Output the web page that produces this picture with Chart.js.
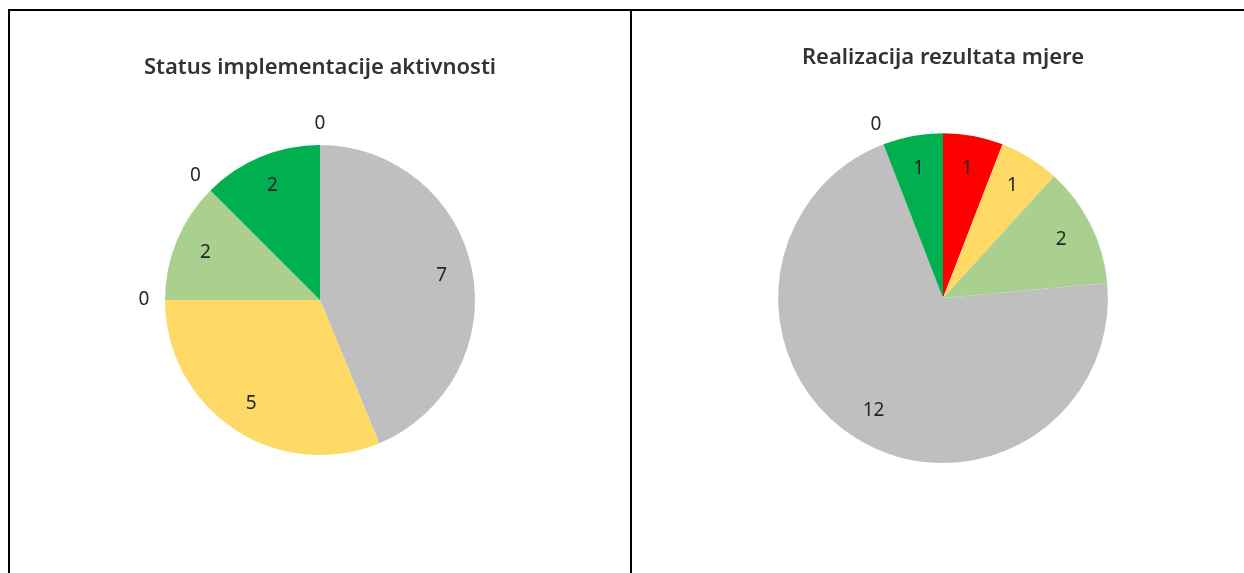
<!DOCTYPE html>
<html lang="hr">

<head>
    <meta charset="UTF-8">
    <meta name="viewport" content="width=device-width, initial-scale=1.0">
    <title>Status i realizacija</title>
    <script src="https://cdn.jsdelivr.net/npm/chart.js@4/dist/chart.umd.min.js"></script>
    <style>
        body {
            margin: 0;
            background: #fff;
            overflow: hidden;
        }

        #tabela {
            position: absolute;
            left: 8px;
            top: 9px;
            width: 1300px;
            height: 600px;
            border-left: 2px solid #000;
            border-top: 2px solid #000;
        }

        .celija {
            position: absolute;
            top: 0;
            height: 562px;
        }

        #lijevo {
            left: 0;
            width: 620px;
            border-right: 2px solid #000;
        }

        #desno {
            left: 622px;
            width: 622px;
        }
    </style>
</head>

<body>
    <div id="tabela">
        <div class="celija" id="lijevo">
            <canvas id="myChart" width="620" height="562"></canvas>
        </div>
        <div class="celija" id="desno">
            <canvas id="myChart1" width="622" height="562"></canvas>
        </div>
    </div>

    <script>
        // podaci - status implementacije aktivnosti
        const statusKategorije = ['Nije započeto', 'U toku', 'Kasni', 'Djelimično realizovano', 'Odgođeno', 'Realizovano', 'Odustalo'];
        const statusVrijednosti = [7, 5, 0, 2, 0, 2, 0];
        const statusBoje = ['#BFBFBF', '#FFD966', '#FF0000', '#A9D08E', '#8EA9DB', '#00B050', '#F4B084'];

        // podaci - realizacija rezultata mjere
        const rezultatKategorije = ['Nije realizovano', 'Djelimično', 'Većim dijelom', 'Nema podataka', 'Odgođeno', 'Realizovano'];
        const rezultatVrijednosti = [1, 1, 2, 12, 0, 1];
        const rezultatBoje = ['#FF0000', '#FFD966', '#A9D08E', '#BFBFBF', '#8EA9DB', '#00B050'];

        const font = "'Noto Sans', sans-serif";

        // oznake vrijednosti (kao u Excelu): unutra, a nule izvan kruga
        const oznake = {
            id: 'oznake',
            afterDatasetsDraw(chart) {
                const c = chart.ctx;
                const meta = chart.getDatasetMeta(0);
                const vrijednosti = chart.data.datasets[0].data;
                c.save();
                c.font = '19px ' + font;
                c.fillStyle = '#262626';
                c.textAlign = 'center';
                c.textBaseline = 'middle';
                meta.data.forEach((luk, i) => {
                    const p = luk.getProps(['x', 'y', 'startAngle', 'endAngle', 'outerRadius'], true);
                    const ugao = (p.startAngle + p.endAngle) / 2;
                    const d = vrijednosti[i] > 0 ? p.outerRadius * 0.8 : p.outerRadius + 21;
                    c.fillText(String(vrijednosti[i]), p.x + Math.cos(ugao) * d, p.y + Math.sin(ugao) * d);
                });
                c.restore();
            }
        };

        function opcije(naslov, padTop, padBottom, layoutBottom) {
            return {
                responsive: false,
                animation: false,
                layout: {
                    padding: { top: 0, left: 0, right: 0, bottom: layoutBottom }
                },
                plugins: {
                    legend: { display: false },
                    tooltip: { enabled: true },
                    title: {
                        display: true,
                        text: naslov,
                        color: '#333333',
                        font: { family: font, size: 22, weight: '600' },
                        padding: { top: padTop, bottom: padBottom }
                    }
                }
            };
        }

        const ctx = document.getElementById('myChart');
        const ctx1 = document.getElementById('myChart1');

        new Chart(ctx, {
            type: 'pie',
            data: {
                labels: statusKategorije,
                datasets: [{
                    data: statusVrijednosti,
                    backgroundColor: statusBoje,
                    borderWidth: 0
                }]
            },
            options: opcije('Status implementacije aktivnosti', 44, 63.6, 118),
            plugins: [oznake]
        });

        // drugi grafikon
        new Chart(ctx1, {
            type: 'pie',
            data: {
                labels: rezultatKategorije,
                datasets: [{
                    data: rezultatVrijednosti,
                    backgroundColor: rezultatBoje,
                    borderWidth: 0
                }]
            },
            options: opcije('Realizacija rezultata mjere', 34, 61.8, 110),
            plugins: [oznake]
        });
    </script>

</body>

</html>
